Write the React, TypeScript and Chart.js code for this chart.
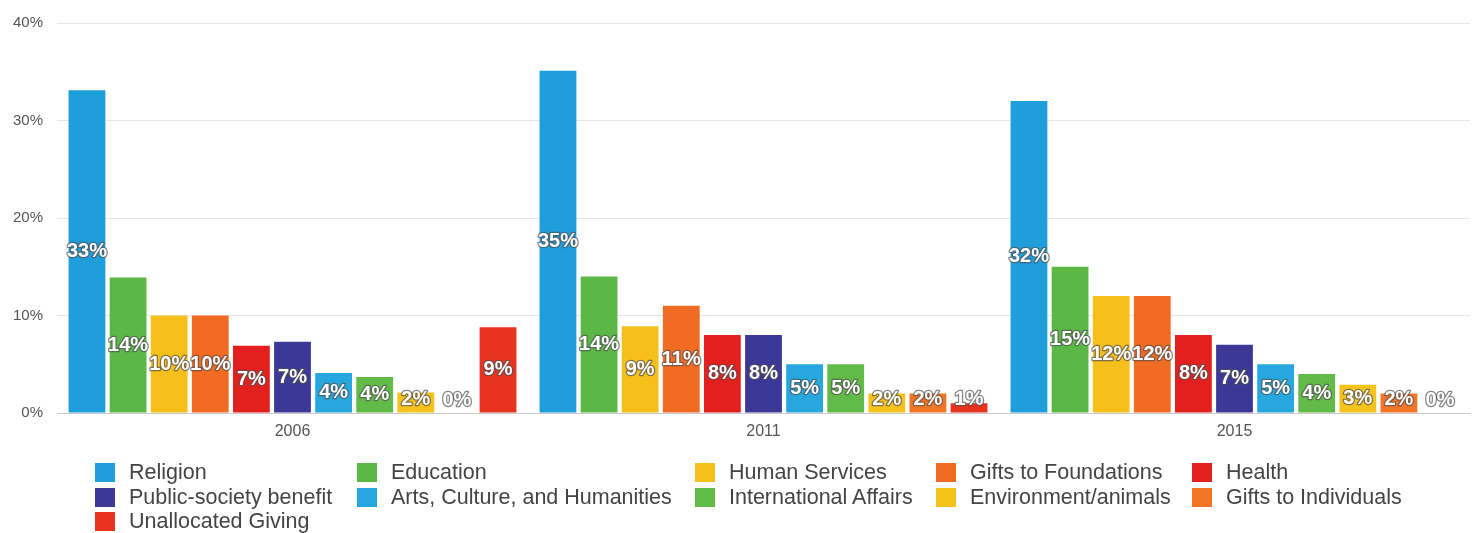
import React, { useEffect, useRef } from "react";
import { Chart, registerables } from "chart.js";

Chart.register(...registerables);

const categories = ["2006", "2011", "2015"];

const seriesNames = [
  "Religion",
  "Education",
  "Human Services",
  "Gifts to Foundations",
  "Health",
  "Public-society benefit",
  "Arts, Culture, and Humanities",
  "International Affairs",
  "Environment/animals",
  "Gifts to Individuals",
  "Unallocated Giving",
];

const religion = [33.1, 35.1, 32.0];
const education = [13.9, 14.0, 15.0];
const humanServices = [10.0, 8.9, 12.0];
const giftsToFoundations = [10.0, 11.0, 12.0];
const health = [6.9, 8.0, 8.0];
const publicSociety = [7.3, 8.0, 7.0];
const arts = [4.1, 5.0, 5.0];
const international = [3.7, 5.0, 4.0];
const environment = [2.1, 2.0, 2.9];
const giftsToIndividuals = [0, 2.0, 2.0];
const unallocated = [8.8, 1.0, 0];

const seriesValues = [
  religion,
  education,
  humanServices,
  giftsToFoundations,
  health,
  publicSociety,
  arts,
  international,
  environment,
  giftsToIndividuals,
  unallocated,
];

const seriesColors = [
  "#1e9fdb",
  "#5bb847",
  "#f6c01c",
  "#f26b22",
  "#e2211f",
  "#3b3897",
  "#27a7df",
  "#62ba48",
  "#f6c31d",
  "#f37526",
  "#e8331f",
];

const yTicks = [0, 10, 20, 30, 40];

const legendColumns = [95, 357, 695, 936, 1192];
const legendRows = [463, 488, 512];

const FONT = "'Liberation Sans', Arial, Helvetica, sans-serif";

const barLabelPlugin = {
  id: "barLabels",
  afterDatasetsDraw(chart: any) {
    const ctx = chart.ctx;
    ctx.save();
    ctx.font = `bold 20px ${FONT}`;
    ctx.textAlign = "center";
    ctx.textBaseline = "middle";
    ctx.lineJoin = "round";
    chart.data.datasets.forEach((ds: any, di: number) => {
      const meta = chart.getDatasetMeta(di);
      meta.data.forEach((el: any, i: number) => {
        const v = ds.data[i];
        const text = Math.round(v) + "%";
        const center = (el.y + el.base) / 2;
        const ty = Math.min(center, el.base - 13);
        ctx.strokeStyle = "rgba(80,80,80,0.7)";
        ctx.lineWidth = 2.5;
        ctx.strokeText(text, el.x, ty);
        ctx.fillStyle = "#ffffff";
        ctx.fillText(text, el.x, ty);
      });
    });
    ctx.restore();
  },
};

export default function App() {
  const canvasRef = useRef<HTMLCanvasElement | null>(null);

  useEffect(() => {
    if (!canvasRef.current) return;
    const chart = new Chart(canvasRef.current, {
      type: "bar",
      data: {
        labels: categories,
        datasets: seriesNames.map((name, i) => ({
          label: name,
          data: seriesValues[i],
          backgroundColor: seriesColors[i],
          borderWidth: 0,
          categoryPercentage: 0.96,
          barPercentage: 0.895,
        })),
      },
      options: {
        responsive: false,
        maintainAspectRatio: false,
        animation: false,
        layout: { padding: { left: 0, top: 23, right: 6, bottom: 90 } },
        plugins: {
          legend: { display: false },
          tooltip: { enabled: false },
          title: { display: false },
        },
        scales: {
          x: {
            grid: { display: false, drawTicks: false },
            border: { display: true, color: "#c8c8c8", width: 1 },
            ticks: {
              color: "#555555",
              font: { family: FONT, size: 16 },
              padding: 9,
            },
            afterFit(scale: any) {
              scale.height = 30;
            },
          },
          y: {
            min: 0,
            max: 40,
            afterBuildTicks(scale: any) {
              scale.ticks = yTicks.map((v) => ({ value: v }));
            },
            grid: { color: "#e6e6e6", drawTicks: false, lineWidth: 1 },
            border: { display: false },
            ticks: {
              color: "#555555",
              font: { family: FONT, size: 15 },
              padding: 14,
              callback: (v: any) => v + "%",
            },
            afterFit(scale: any) {
              scale.width = 57;
            },
          },
        },
      },
      plugins: [barLabelPlugin],
    });
    return () => chart.destroy();
  }, []);

  return (
    <div style={{ position: "absolute", left: 0, top: 0, width: 1476, height: 533, background: "#ffffff" }}>
      <canvas ref={canvasRef} width={1476} height={533} style={{ position: "absolute", left: 0, top: 0 }} />
      {seriesNames.map((name, i) => {
        const col = i % 5;
        const row = Math.floor(i / 5);
        return (
          <div
            key={name}
            style={{
              position: "absolute",
              left: legendColumns[col],
              top: legendRows[row],
              height: 19,
              display: "flex",
              alignItems: "center",
              whiteSpace: "nowrap",
            }}
          >
            <span style={{ display: "inline-block", width: 20, height: 19, background: seriesColors[i], marginRight: 14 }} />
            <span style={{ fontFamily: FONT, fontSize: 21.5, color: "#444444", lineHeight: "19px" }}>{name}</span>
          </div>
        );
      })}
    </div>
  );
}
